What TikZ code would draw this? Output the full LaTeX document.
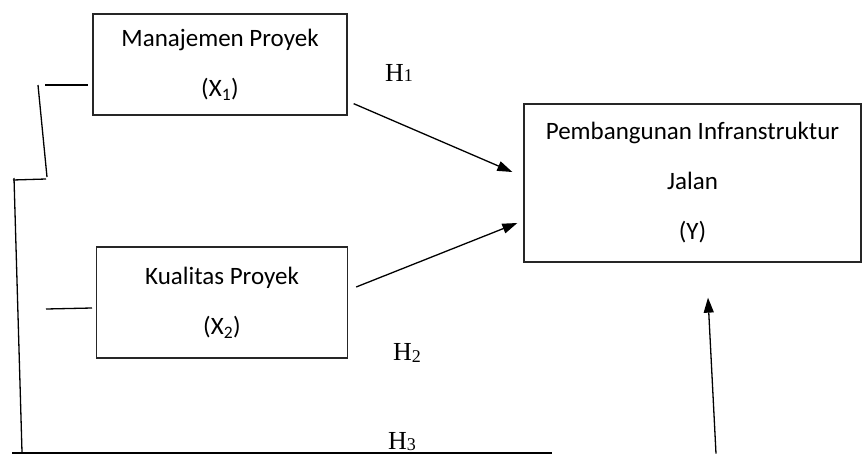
\documentclass[tikz,border=0pt]{standalone}
\usepackage{fontspec}
\setmainfont{Carlito}
\newfontfamily\hfont{Liberation Serif}
\usetikzlibrary{arrows.meta}

\begin{document}
\begin{tikzpicture}[x=1pt,y=-1pt,
	varbox/.style={draw=black!85, line width=1.3pt, align=center, inner sep=0pt,
		font=\fontsize{25}{50}\selectfont},
	hyparrow/.style={-{Triangle[length=15pt,width=10pt]}, line width=1.3pt},
	plainline/.style={line width=1.3pt}]
	\useasboundingbox (0,0) rectangle (862,455);
	% Draw variable boxes
	\node[varbox, minimum width=254pt, minimum height=101pt] (x1) at (220,64.5)
	{Manajemen Proyek\\(X\textsubscript{1})};
	\node[varbox, minimum width=251pt, minimum height=111pt] (x2) at (222,302.5)
	{Kualitas Proyek\\(X\textsubscript{2})};
	\node[varbox, minimum width=337pt, minimum height=158pt] (y) at (692.5,183)
	{Pembangunan Infranstruktur\\Jalan\\(Y)};
	% Draw hypothesis arrows
	\draw[hyparrow] ([shift={(6,-12)}]x1.south east) -- ([shift={(-11,-11)}]y.west);
	\draw[hyparrow] ([shift={(8,-15.5)}]x2.east) -- ([shift={(-6,40)}]y.west);
	\draw[hyparrow] ([shift={(23.5,191)}]y.south) -- ([shift={(15.5,35)}]y.south);
	% Draw bracket lines on the left
	\draw[plainline] (45,85) -- (88,85);
	\draw[plainline] (38,85) -- (47,177);
	\draw[plainline] (13,180) -- (46,179);
	\draw[plainline] (14,178) -- (22,452);
	\draw[plainline] (46,309) -- (92,308);
	\draw[plainline] (12,453) -- (552,453);
	% Draw hypothesis labels
	\foreach \x/\y/\n/\dy in {385/81/1/0, 393/360/2/-2, 388/449/3/-1}
	{\node[anchor=base west, inner sep=0pt, font=\hfont\fontsize{26}{26}\selectfont] (h\n) at (\x,\y)
		{H\raisebox{\dy pt}{\fontsize{18}{18}\selectfont\n}};}
\end{tikzpicture}
\end{document}
